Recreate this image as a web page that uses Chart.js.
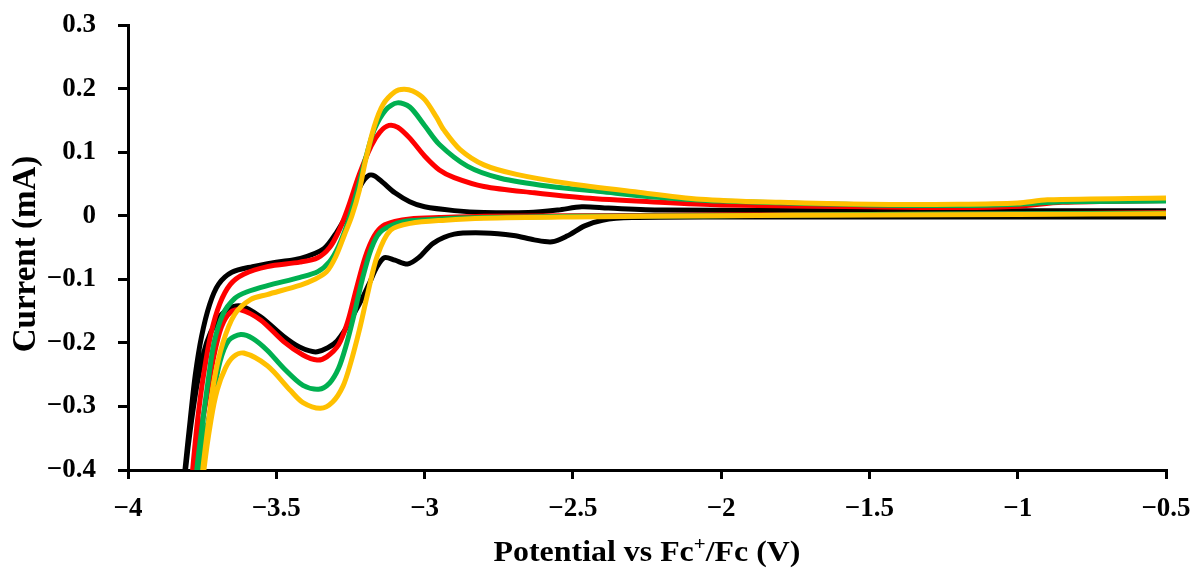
<!DOCTYPE html>
<html>
<head>
<meta charset="utf-8">
<script src="https://cdn.jsdelivr.net/npm/chart.js@4.4.1/dist/chart.umd.min.js"></script>
<style>
  html, body { margin: 0; padding: 0; background: #ffffff; }
  #wrap { width: 1195px; height: 569px; }
</style>
</head>
<body>
<div id="wrap"><canvas id="cv" width="1195" height="569"></canvas></div>
<script>
// Cyclic voltammograms: each loop runs from -0.5 V out to the cathodic limit
// along the lower branch, then back to -0.5 V along the upper branch.

// Black trace
const potBlack = [-0.5, -1.0, -1.5, -2.0, -2.3, -2.4, -2.46, -2.52, -2.57, -2.63, -2.7, -2.8, -2.9, -2.97, -3.02, -3.057, -3.1, -3.135, -3.16, -3.185, -3.227, -3.295, -3.362, -3.42, -3.475, -3.553, -3.62, -3.666, -3.7, -3.735, -3.765, -3.788, -3.806, -3.825,
  -3.83, -3.808, -3.79, -3.773, -3.752, -3.725, -3.695, -3.65, -3.58, -3.5, -3.418, -3.34, -3.295, -3.26, -3.239, -3.215, -3.19, -3.17, -3.14, -3.1, -3.05, -3.0, -2.9, -2.8, -2.65, -2.55, -2.47, -2.38, -2.2, -1.5, -1.0, -0.5];
const curBlack = [-0.002, -0.002, -0.002, -0.002, -0.003, -0.007, -0.016, -0.032, -0.041, -0.038, -0.031, -0.027, -0.029, -0.043, -0.066, -0.076, -0.07, -0.066, -0.08, -0.105, -0.145, -0.197, -0.214, -0.207, -0.19, -0.159, -0.142, -0.148, -0.165, -0.2, -0.26, -0.33, -0.4, -0.5,
  -0.5, -0.4, -0.32, -0.25, -0.19, -0.14, -0.108, -0.089, -0.08, -0.073, -0.067, -0.052, -0.025, 0.003, 0.02, 0.048, 0.063, 0.063, 0.052, 0.036, 0.022, 0.014, 0.008, 0.005, 0.005, 0.009, 0.014, 0.012, 0.009, 0.008, 0.008, 0.008];

// Red trace
const potRed = [-0.5, -1.0, -1.5, -2.0, -2.5, -2.8, -2.95, -3.05, -3.1, -3.14, -3.17, -3.2, -3.23, -3.26, -3.29, -3.33, -3.362, -3.41, -3.475, -3.553, -3.62, -3.655, -3.685, -3.71, -3.74, -3.762, -3.78, -3.795,
  -3.8, -3.782, -3.765, -3.745, -3.72, -3.69, -3.655, -3.61, -3.53, -3.42, -3.36, -3.32, -3.29, -3.26, -3.22, -3.18, -3.15, -3.12, -3.09, -3.05, -3.0, -2.95, -2.9, -2.8, -2.63, -2.46, -2.24, -2.0, -1.5, -1.2, -1.0, -0.85, -0.5];
const curRed = [0.005, 0.003, 0.002, 0.001, 0.0, -0.001, -0.003, -0.005, -0.009, -0.016, -0.032, -0.065, -0.115, -0.168, -0.203, -0.222, -0.227, -0.219, -0.198, -0.164, -0.148, -0.152, -0.175, -0.22, -0.3, -0.36, -0.42, -0.5,
  -0.5, -0.4, -0.32, -0.25, -0.185, -0.138, -0.108, -0.092, -0.08, -0.073, -0.066, -0.05, -0.025, 0.01, 0.065, 0.11, 0.132, 0.142, 0.139, 0.122, 0.094, 0.072, 0.06, 0.046, 0.036, 0.028, 0.022, 0.017, 0.014, 0.013, 0.015, 0.021, 0.024];

// Green trace
const potGreen = [-0.5, -1.0, -1.5, -2.0, -2.5, -2.8, -2.95, -3.05, -3.1, -3.15, -3.18, -3.21, -3.24, -3.265, -3.29, -3.32, -3.357, -3.41, -3.475, -3.53, -3.58, -3.62, -3.66, -3.69, -3.72, -3.745, -3.765, -3.778,
  -3.785, -3.768, -3.75, -3.73, -3.71, -3.68, -3.64, -3.6, -3.53, -3.42, -3.36, -3.32, -3.29, -3.26, -3.23, -3.2, -3.17, -3.13, -3.092, -3.05, -3.0, -2.95, -2.856, -2.744, -2.575, -2.407, -2.238, -2.0, -1.5, -1.2, -1.0, -0.85, -0.5];
const curGreen = [0.004, 0.003, 0.002, 0.0, -0.001, -0.003, -0.005, -0.008, -0.013, -0.026, -0.052, -0.1, -0.16, -0.205, -0.24, -0.263, -0.273, -0.267, -0.24, -0.212, -0.193, -0.187, -0.196, -0.23, -0.3, -0.36, -0.42, -0.5,
  -0.5, -0.4, -0.33, -0.26, -0.2, -0.155, -0.13, -0.12, -0.11, -0.097, -0.088, -0.072, -0.048, -0.012, 0.035, 0.088, 0.135, 0.167, 0.1775, 0.171, 0.142, 0.112, 0.078, 0.059, 0.046, 0.038, 0.03, 0.023, 0.017, 0.016, 0.018, 0.022, 0.023];

// Gold trace
const potGold = [-0.5, -1.0, -1.5, -2.0, -2.5, -2.8, -2.93, -3.048, -3.115, -3.16, -3.193, -3.22, -3.25, -3.275, -3.31, -3.351, -3.41, -3.452, -3.53, -3.61, -3.645, -3.672, -3.699, -3.72, -3.744, -3.763,
  -3.768, -3.748, -3.73, -3.71, -3.68, -3.64, -3.587, -3.531, -3.418, -3.37, -3.33, -3.3, -3.27, -3.245, -3.22, -3.2, -3.17, -3.14, -3.1, -3.07, -3.04, -3.0, -2.96, -2.935, -2.88, -2.8, -2.69, -2.52, -2.3, -2.07, -1.8, -1.5, -1.2, -1.0, -0.9, -0.5];
const curGold = [0.003, 0.002, 0.001, 0.0, -0.002, -0.004, -0.007, -0.012, -0.023, -0.064, -0.125, -0.18, -0.233, -0.268, -0.293, -0.303, -0.294, -0.275, -0.236, -0.216, -0.222, -0.24, -0.274, -0.321, -0.4, -0.5,
  -0.5, -0.4, -0.33, -0.26, -0.2, -0.155, -0.132, -0.124, -0.109, -0.1, -0.088, -0.065, -0.03, 0.0, 0.04, 0.085, 0.14, 0.175, 0.195, 0.199, 0.196, 0.183, 0.155, 0.135, 0.104, 0.08, 0.065, 0.051, 0.038, 0.026, 0.021, 0.018, 0.018, 0.02, 0.025, 0.028];

// Axis ticks
const xTickValues = [-4, -3.5, -3, -2.5, -2, -1.5, -1, -0.5];
const xTickLabels = ['\u22124', '\u22123.5', '\u22123', '\u22122.5', '\u22122', '\u22121.5', '\u22121', '\u22120.5'];
const yTickValues = [-0.4, -0.3, -0.2, -0.1, 0, 0.1, 0.2, 0.3];
const yTickLabels = ['\u22120.4', '\u22120.3', '\u22120.2', '\u22120.1', '0', '0.1', '0.2', '0.3'];

// Axis titles
const yTitle = 'Current (mA)';
const xTitleParts = ['Potential vs Fc', '+', '/Fc (V)'];

const SERIF = '"Liberation Serif", "Times New Roman", serif';

function toPoints(xs, ys) {
  return xs.map((x, i) => ({ x: x, y: ys[i] }));
}

function trace(xs, ys, color, order) {
  return {
    data: toPoints(xs, ys),
    showLine: true,
    borderColor: color,
    backgroundColor: color,
    borderWidth: 5,
    pointRadius: 0,
    pointHoverRadius: 0,
    tension: 0.3,
    fill: false,
    clip: 0,
    order: order
  };
}

// Axis titles: vertical "Current (mA)" and the x title with a superscript "+"
const axisTitles = {
  id: 'axisTitles',
  afterDraw(chart) {
    const ctx = chart.ctx;
    const area = chart.chartArea;

    ctx.save();
    ctx.fillStyle = '#000000';
    ctx.translate(26, 254);
    ctx.rotate(-Math.PI / 2);
    ctx.textAlign = 'center';
    ctx.textBaseline = 'middle';
    ctx.font = 'bold 33px ' + SERIF;
    ctx.fillText(yTitle, 0, 0);
    ctx.restore();

    const stretch = 1.1;
    const parts = [
      { t: xTitleParts[0], f: 'bold 29px ' + SERIF, dy: 0 },
      { t: xTitleParts[1], f: 'bold 19px ' + SERIF, dy: -11 },
      { t: xTitleParts[2], f: 'bold 29px ' + SERIF, dy: 0 }
    ];
    ctx.save();
    ctx.fillStyle = '#000000';
    ctx.textBaseline = 'alphabetic';
    ctx.textAlign = 'left';
    let total = 0;
    parts.forEach(p => { ctx.font = p.f; p.w = ctx.measureText(p.t).width; total += p.w; });
    ctx.translate((area.left + area.right) / 2, 561);
    ctx.scale(stretch, 1);
    let x = -total / 2;
    parts.forEach(p => { ctx.font = p.f; ctx.fillText(p.t, x, p.dy); x += p.w; });
    ctx.restore();
  }
};

new Chart(document.getElementById('cv'), {
  type: 'scatter',
  data: {
    datasets: [
      trace(potBlack, curBlack, '#000000', 4),
      trace(potRed, curRed, '#FF0000', 3),
      trace(potGreen, curGreen, '#00B050', 2),
      trace(potGold, curGold, '#FFC000', 1)
    ]
  },
  options: {
    responsive: false,
    animation: false,
    events: [],
    layout: { padding: { top: 25, right: 29, left: 0, bottom: 0 } },
    plugins: { legend: { display: false }, tooltip: { enabled: false } },
    scales: {
      x: {
        type: 'linear',
        min: -4,
        max: -0.5,
        afterBuildTicks: s => { s.ticks = xTickValues.map(v => ({ value: v })); },
        afterFit: s => { s.height = 99; s.paddingLeft = 0; s.paddingRight = 0; },
        ticks: {
          autoSkip: false,
          maxRotation: 0,
          padding: 14,
          color: '#000000',
          font: { family: SERIF, size: 27, weight: 'bold' },
          callback: v => xTickLabels[xTickValues.indexOf(v)]
        },
        grid: { display: true, drawOnChartArea: false, drawTicks: true, tickLength: 9, lineWidth: 3, color: '#000000' },
        border: { display: true, color: '#000000', width: 3 }
      },
      y: {
        type: 'linear',
        min: -0.4,
        max: 0.3,
        afterBuildTicks: s => { s.ticks = yTickValues.map(v => ({ value: v })); },
        afterFit: s => { s.width = 128; s.paddingTop = 0; s.paddingBottom = 0; },
        ticks: {
          autoSkip: false,
          padding: 22,
          color: '#000000',
          font: { family: SERIF, size: 27, weight: 'bold' },
          callback: v => yTickLabels[yTickValues.indexOf(v)]
        },
        grid: { display: true, drawOnChartArea: false, drawTicks: true, tickLength: 10, lineWidth: 3, color: '#000000' },
        border: { display: true, color: '#000000', width: 3 }
      }
    }
  },
  plugins: [axisTitles]
});
</script>
</body>
</html>
